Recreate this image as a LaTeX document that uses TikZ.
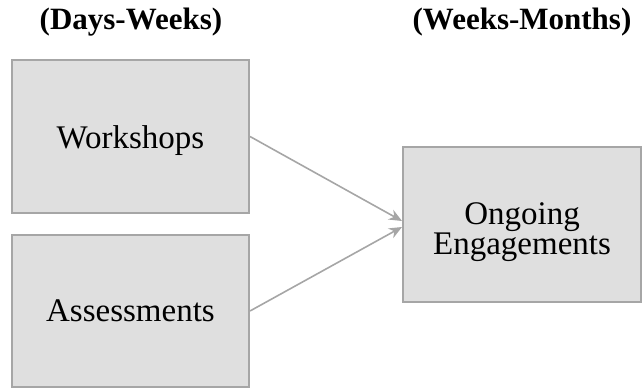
\documentclass[tikz,border=0pt]{standalone}
\usepackage{fontspec}
\setmainfont{Liberation Serif}
\usetikzlibrary{arrows.meta}
\definecolor{boxfill}{HTML}{DFDFDF}
\definecolor{boxline}{HTML}{A6A6A6}
\begin{document}
\begin{tikzpicture}[x=1pt,y=1pt,
  stagebox/.style={draw=boxline, line width=2pt, fill=boxfill, rectangle,
    minimum width=237pt, minimum height=153pt, inner sep=0pt,
    font=\fontsize{33}{29}\selectfont, align=center},
  title/.style={font=\bfseries\fontsize{31}{31}\selectfont, anchor=base, inner sep=0pt},
  flow/.style={draw=boxline, line width=1.6pt, -{Stealth[length=13pt,width=11pt]}}]
\useasboundingbox (0,0) rectangle (643,388);
\node[title] (t1) at (131,358) {(Days-Weeks)};
\node[title] (t2) at (522,358) {(Weeks-Months)};
\node[stagebox, text height=25pt, text depth=0pt] (w) at (130.5,251.5) {Workshops};
\node[stagebox, text height=22pt, text depth=0pt, minimum height=152pt] (a) at (130.5,77) {Assessments};
\node[stagebox, minimum width=238pt, minimum height=155pt, text height=61pt, text depth=0pt] (o) at (522,163.5) {Ongoing\\[1pt]Engagements};
\coordinate (oin1) at ([yshift=3.5pt]o.west);
\coordinate (oin2) at ([yshift=-2.5pt]o.west);
\draw[flow] (w.east) -- (oin1);
\draw[flow] (a.east) -- (oin2);
\end{tikzpicture}
\end{document}
